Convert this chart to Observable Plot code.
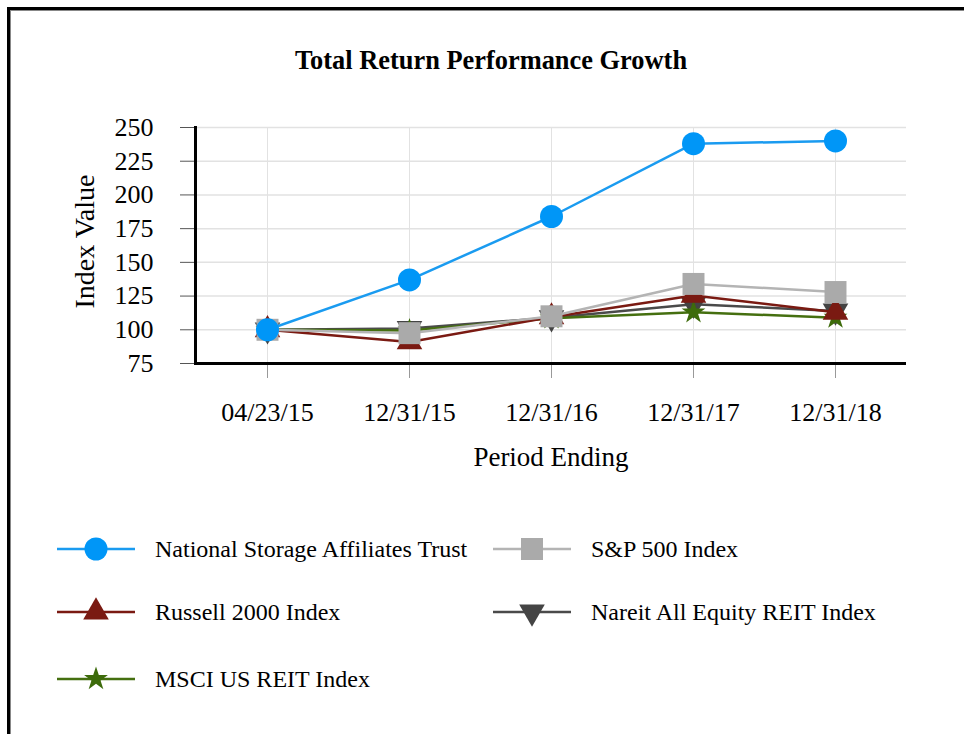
<!DOCTYPE html>
<html><head><meta charset="utf-8">
<script src="https://cdn.jsdelivr.net/npm/d3@7"></script>
<script src="https://cdn.jsdelivr.net/npm/@observablehq/plot@0.6"></script>
<style>
body{margin:0;background:#fff;font-family:"Liberation Serif","Times New Roman",serif;color:#000;}
#page{position:relative;width:964px;height:734px;overflow:hidden;background:#fff;}
#border{position:absolute;left:7px;top:7px;width:1000px;height:800px;border-left:3px solid #000;border-top:3px solid #000;box-shadow:inset 1px 1px 0 #888;}
#title{position:absolute;left:0;top:45px;width:982px;height:30px;line-height:30px;text-align:center;font-weight:bold;font-size:26.4px;}
#chart{position:absolute;left:0;top:95px;}
.leg{position:absolute;height:30px;line-height:30px;font-size:24px;white-space:nowrap;}
.leg svg{position:absolute;left:0;top:0;}
.leg span{position:absolute;top:0;}
</style></head>
<body><div id="page"><div id="border"></div><div id="title">Total Return Performance Growth</div><div id="chart"></div><div id="legend"></div></div>
<script>
const periods = ["04/23/15","12/31/15","12/31/16","12/31/17","12/31/18"];
const yTicks = [75,100,125,150,175,200,225,250];
const seriesNames = ["National Storage Affiliates Trust","S&P 500 Index","Russell 2000 Index","Nareit All Equity REIT Index","MSCI US REIT Index"];
const nsaValues = [100,137,184,238,240];
const sp500Values = [100,97.5,110,134,128];
const russellValues = [100,91,109.5,125.5,113];
const nareitValues = [100,101,109,119,114];
const msciValues = [100,99.5,108.5,113,109];

const sqrt3 = Math.sqrt(3);
const triangleDown = {draw(ctx, size){const y = -Math.sqrt(size/(sqrt3*3)); ctx.moveTo(0,-y*2); ctx.lineTo(-sqrt3*y, y); ctx.lineTo(sqrt3*y, y); ctx.closePath();}};

const series = [
  {name: seriesNames[0], values: nsaValues, color: "#0096f7", line: "#1a9bf0", symbol: "circle", r: 11.5, d3sym: d3.symbolCircle},
  {name: seriesNames[1], values: sp500Values, color: "#aaaaaa", line: "#b4b4b4", symbol: "square", r: 12.4, d3sym: d3.symbolSquare},
  {name: seriesNames[2], values: russellValues, color: "#7a1a12", line: "#7a1a12", symbol: "triangle", r: 9.5, d3sym: d3.symbolTriangle},
  {name: seriesNames[3], values: nareitValues, color: "#444444", line: "#4a4a4a", symbol: triangleDown, r: 9.5, d3sym: triangleDown},
  {name: seriesNames[4], values: msciValues, color: "#3d6b0b", line: "#456f10", symbol: "star", r: 7.5, d3sym: d3.symbolStar}
];
const drawOrder = [3, 4, 2, 1, 0];

const marks = [
  Plot.gridY(yTicks, {stroke: "#e2e2e2", strokeOpacity: 1, strokeWidth: 1.5}),
  Plot.gridX({stroke: "#e2e2e2", strokeOpacity: 1, strokeWidth: 1}),
  Plot.axisX({tickSize: 15, tickPadding: 24, fontSize: 26, stroke: "#999", label: null}),
  Plot.axisY(yTicks, {tickSize: 15, tickPadding: 27, fontSize: 26, stroke: "#555", label: null}),
  Plot.frame({anchor: "left", stroke: "#000", strokeWidth: 3}),
  Plot.ruleY([75], {stroke: "#000", strokeWidth: 3}),
  Plot.text(["Period Ending"], {text: d => d, frameAnchor: "bottom", dy: 102, fontSize: 27, fill: "#000"}),
  Plot.text(["Index Value"], {text: d => d, frameAnchor: "left", textAnchor: "middle", rotate: -90, dx: -110, dy: -4, fontSize: 28, fill: "#000"})
];
for (const i of drawOrder) {
  const s = series[i];
  const rows = periods.map((p, j) => ({period: p, value: s.values[j]}));
  marks.push(Plot.line(rows, {x: "period", y: "value", stroke: s.line, strokeWidth: 2.5}));
  marks.push(Plot.dot(rows, {x: "period", y: "value", symbol: s.symbol, r: s.r, fill: s.color, stroke: "none"}));
}

const chart = Plot.plot({
  width: 964, height: 385,
  marginLeft: 195, marginRight: 58, marginTop: 32, marginBottom: 117,
  style: {fontFamily: "'Liberation Serif','Times New Roman',serif", background: "transparent", color: "#000"},
  x: {type: "point", domain: periods, padding: 0.5},
  y: {domain: [75, 250]},
  marks
});
document.getElementById("chart").appendChild(chart);

// legend
const legendPos = [[57,549],[493,549],[57,612],[493,612],[57,679]];
const legend = d3.select("#legend");
series.forEach((s, i) => {
  const [lx, cy] = legendPos[i];
  const item = legend.append("div").attr("class", "leg").style("left", lx + "px").style("top", (cy - 15) + "px");
  const svg = item.append("svg").attr("width", 80).attr("height", 30);
  svg.append("line").attr("x1", 0).attr("x2", 78).attr("y1", 15).attr("y2", 15).attr("stroke", s.line).attr("stroke-width", 2.5);
  svg.append("path").attr("transform", "translate(39,15)").attr("d", d3.symbol(s.d3sym, Math.PI * s.r * s.r)()).attr("fill", s.color);
  item.append("span").style("left", "98px").text(s.name);
});
</script></body></html>
